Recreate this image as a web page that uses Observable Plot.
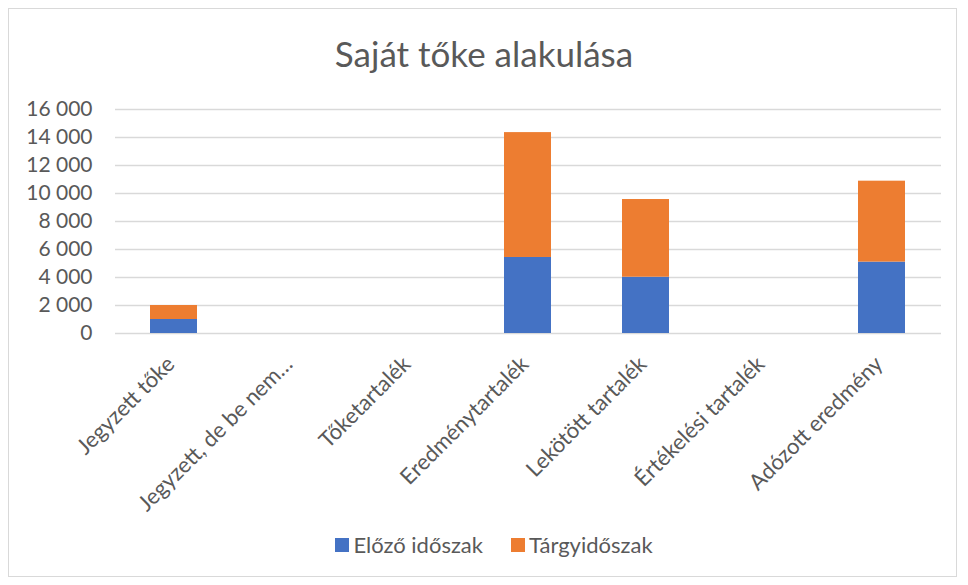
<!DOCTYPE html>
<html>
<head>
<meta charset="utf-8">
<script src="https://cdn.jsdelivr.net/npm/d3@7"></script>
<script src="https://cdn.jsdelivr.net/npm/@observablehq/plot@0.6"></script>
<style>
  body { margin: 0; background: #fff; font-family: Lato, "Open Sans", sans-serif; }
  #wrap { position: relative; width: 968px; height: 585px; overflow: hidden; }
  #frame { position: absolute; left: 8px; top: 8px; width: 949px; height: 569px; border: 1px solid #d9d9d9; box-sizing: border-box; }
  #title { position: absolute; left: 0; width: 968px; top: 32px; text-align: center; font-size: 35px; line-height: 42px; color: #595959; font-weight: 400; }
  #chart { position: absolute; left: 0; top: 90px; }
  #chart svg text { fill: #595959; }
  #chart svg g[aria-label="y-axis tick label"] text { font-size: 21px; }
  #chart svg g[aria-label="x-axis tick label"] text { font-size: 22px; }
  #legend { position: absolute; left: 10px; width: 968px; top: 531px; text-align: center; font-size: 22px; line-height: 26px; color: #595959; }
  .li { display: inline-flex; align-items: center; margin: 0 14px; }
  .sw { display: inline-block; width: 14px; height: 14px; margin-right: 4px; }
</style>
</head>
<body>
<div id="wrap">
  <div id="frame"></div>
  <div id="title">Saját tőke alakulása</div>
  <div id="chart"></div>
  <div id="legend"></div>
</div>
<script>
const categories = ["Jegyzett tőke", "Jegyzett, de be nem…", "Tőketartalék", "Eredménytartalék", "Lekötött tartalék", "Értékelési tartalék", "Adózott eredmény"];
const seriesNames = ["Előző időszak", "Tárgyidőszak"];
const seriesColors = ["#4472C4", "#ED7D31"];
const elozo = [1000, 0, 0, 5430, 4020, 0, 5100];
const targy = [1000, 0, 0, 8920, 5550, 0, 5780];
const yTicks = [0, 2000, 4000, 6000, 8000, 10000, 12000, 14000, 16000];

const rows = [];
categories.forEach((c, i) => {
  rows.push({cat: c, series: seriesNames[0], value: elozo[i]});
  rows.push({cat: c, series: seriesNames[1], value: targy[i]});
});

const fmt = d => d3.format(",")(d).replace(/,/g, "\u00a0");

const plot = Plot.plot({
  width: 968,
  height: 440,
  marginLeft: 115,
  marginRight: 27,
  marginTop: 19,
  marginBottom: 197,
  style: { fontFamily: "Lato, 'Open Sans', sans-serif", fontSize: "20px", color: "#595959", background: "transparent" },
  x: { domain: categories, paddingInner: 0.6, paddingOuter: 0.3, label: null },
  y: { domain: [0, 16000], label: null },
  color: { domain: seriesNames, range: seriesColors },
  marks: [
    Plot.ruleY(yTicks, { stroke: "#d9d9d9", strokeWidth: 1.3 }),
    Plot.barY(rows, { x: "cat", y: "value", fill: "series", order: seriesNames }),
    Plot.axisY({ ticks: yTicks, tickFormat: fmt, tickSize: 0, tickPadding: 23, label: null, fontSize: 21 }),
    Plot.axisX({ tickSize: 0, tickRotate: -45, tickPadding: 27, dx: -3, label: null, fontSize: 22 })
  ]
});
document.getElementById("chart").appendChild(plot);

const legend = document.getElementById("legend");
seriesNames.forEach((s, i) => {
  const item = document.createElement("span");
  item.className = "li";
  const sw = document.createElement("span");
  sw.className = "sw";
  sw.style.background = seriesColors[i];
  item.appendChild(sw);
  item.appendChild(document.createTextNode(s));
  legend.appendChild(item);
});
</script>
</body>
</html>
